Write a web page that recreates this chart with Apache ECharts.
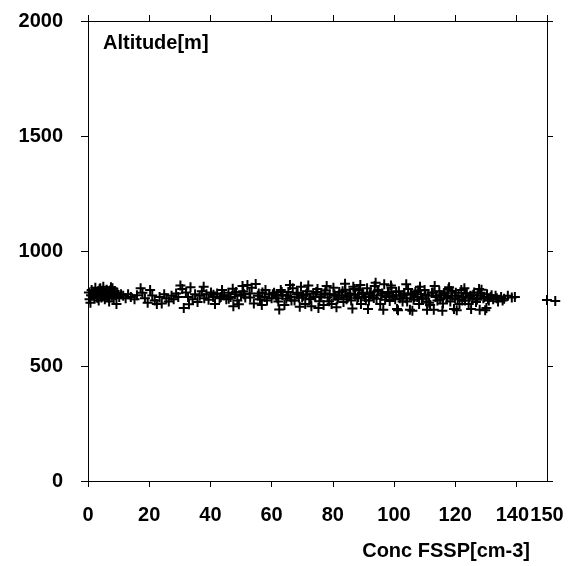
<!DOCTYPE html>
<html>
<head>
<meta charset="utf-8">
<script src="https://cdn.jsdelivr.net/npm/echarts@6/dist/echarts.min.js"></script>
<style>html,body{margin:0;padding:0;background:#fff;}#c{width:569px;height:566px;}</style>
</head>
<body>
<div id="c"></div>
<script>
// Concentration FSSP [cm-3] (first pass of points)
var concentration = [
  0.3,0.5,0.8,1.2,1.5,1.8,2.1,2.4,2.6,3.0,3.3,3.5,3.8,4.1,4.4,4.7,5.0,5.2,5.5,5.8,6.1,6.3,6.6,6.9,7.2,7.5,7.8,8.1,8.4,8.7,9.0,9.3,9.6,10.2,10.8,
  11.5,12.3,13.1,14.0,15.2,16.0,17.2,17.8,18.6,19.5,20.3,21.0,21.8,22.5,23.4,24.1,24.9,25.6,26.4,27.3,28.0,28.8,29.5,
  30.2,30.8,31.3,32.0,32.7,33.5,34.2,35.0,35.8,36.5,37.2,38.0,38.7,39.4,40.2,40.9,41.5,42.2,43.0,43.8,44.5,45.2,45.9,46.6,47.3,48.0,48.8,49.3,50.0,50.7,51.4,52.1,52.8,53.5,54.2,54.8,55.5,56.2,57.0,57.8,58.5,59.2,
  60.0,60.8,61.5,62.2,63.0,63.6,64.2,64.8,65.5,66.2,66.9,67.5,68.2,68.9,69.6,70.3,71.0,71.6,72.3,73.0,73.6,74.3,75.0,75.6,76.3,77.0,77.6,78.3,79.0,79.6,
  80.2,80.8,81.5,82.1,82.8,83.5,84.1,84.8,85.4,86.0,86.7,87.3,88.0,88.6,89.2,89.9,90.5,91.2,91.8,92.4,93.0,93.7,94.3,94.9,95.5,96.1,96.8,97.4,98.0,98.6,99.2,99.8,
  100.4,101.0,101.6,102.2,102.8,103.4,104.0,104.6,105.2,105.8,106.4,107.0,107.6,108.2,108.8,109.4,110.0,110.6,111.2,111.8,112.4,113.0,113.6,114.2,114.8,115.4,116.0,116.6,117.2,117.8,118.4,119.0,119.6,120.2,120.8,121.4,
  122.0,122.6,123.2,123.8,124.4,125.0,125.6,126.2,126.8,127.4,128.0,128.6,129.2,129.8,130.4,131.0,131.6,132.4,133.2,134.0,135.0,136.0,137.2,138.5,139.5,
  150.0,152.7
];
// Altitude [m] (first pass of points)
var altitude = [
  820,790,775,830,805,815,795,840,812,800,825,785,835,810,798,822,845,805,790,818,832,800,812,780,828,842,805,815,795,826,808,770,818,800,812,
  805,795,812,800,790,808,838,818,795,775,830,806,785,770,800,772,812,795,780,805,790,815,800,
  850,835,752,820,800,842,790,812,778,805,825,795,812,788,820,800,770,815,795,830,808,790,818,800,836,812,785,768,805,825,798,852,815,840,772,856,805,790,820,800,785,812,
  795,818,805,780,830,810,765,792,822,800,838,785,812,798,845,805,770,825,792,760,815,800,835,782,810,765,828,798,812,770,
  840,805,790,822,808,778,832,800,815,785,845,810,795,828,770,812,800,838,785,820,805,848,792,830,770,815,855,800,822,783,840,808,
  790,748,825,805,780,815,795,835,745,810,788,822,800,770,812,795,830,780,805,765,818,745,800,785,825,808,772,815,795,835,780,805,748,818,790,770,
  830,800,785,815,770,805,792,820,778,808,745,832,795,742,812,785,800,790,805,780,800,792,805,798,800,
  787,783
];
// Concentration FSSP [cm-3] (second pass of points)
var concentrationB = [
  1.0,2.0,3.1,4.0,5.1,6.0,7.0,8.0,9.1,
  41.0,43.4,46.0,48.4,51.0,53.0,55.8,58.0,
  60.4,61.9,63.3,65.0,66.5,68.5,70.0,71.3,72.8,74.6,
  76.0,77.3,78.8,80.5,81.8,83.2,84.5,85.7,87.0,88.3,
  89.6,90.8,92.1,93.4,94.6,95.8,97.1,98.3,99.5,100.7,
  101.9,103.1,104.3,105.5,106.7,107.9,109.1,110.3,111.5,112.7,
  113.9,115.1,116.3,117.5,118.7,119.9,121.1,122.3,123.5,124.7,
  125.9,127.1,128.3,129.5,130.7,131.9,133.6,135.5
];
// Altitude [m] (second pass of points)
var altitudeB = [
  808,822,796,838,815,826,800,838,812,
  810,800,792,822,812,798,815,830,
  812,795,822,805,785,818,798,812,790,822,
  800,815,782,812,798,825,790,810,835,800,
  818,786,812,796,825,806,788,815,800,822,
  795,808,780,815,800,828,792,810,775,820,
  805,790,816,800,826,795,805,785,815,798,
  810,788,818,800,792,808,795,785
];
// Concentration FSSP [cm-3] (outlying points of the band)
var concentrationC = [
  33.0,37.8,47.5,50.5,56.8,62.5,66.0,69.2,72.0,75.3,78.0,81.2,84.0,86.4,89.0,91.5,
  94.0,96.5,99.0,101.3,104.0,106.0,108.5,110.8,113.3,115.8,118.0,120.5,123.0,125.2,127.8,130.2
];
// Altitude [m] (outlying points of the band)
var altitudeC = [
  768,845,760,848,765,746,852,758,850,752,848,755,858,750,852,748,
  862,745,850,742,855,740,845,745,848,740,842,742,838,748,835,752
];
var xTicks = [0, 20, 40, 60, 80, 100, 120, 140, 150];
var yTicks = [0, 500, 1000, 1500, 2000];

function pairs(xs, ys) { return xs.map(function (c, i) { return [c, ys[i]]; }); }
var points = pairs(concentration, altitude)
  .concat(pairs(concentrationB, altitudeB))
  .concat(pairs(concentrationC, altitudeC));

var xMin = xTicks[0], xMax = xTicks[xTicks.length - 1];
var yMin = yTicks[0], yMax = yTicks[yTicks.length - 1];

var font = 'Liberation Sans';
var chart = echarts.init(document.getElementById('c'), null, {renderer: 'canvas'});
var lineStyle = {color: '#000', width: 1};
var labelStyle = {color: '#000', fontFamily: font, fontSize: 20, fontWeight: 'bold'};
var gridBox = {left: 88, right: 22, top: 21, bottom: 85, containLabel: false};
chart.setOption({
  animation: false,
  backgroundColor: '#fff',
  title: [
    {text: 'Altitude[m]', left: 103, top: 33, padding: 0,
     textStyle: labelStyle},
    {text: 'Conc FSSP[cm-3]', right: 39, top: 541, padding: 0,
     textStyle: labelStyle}
  ],
  grid: [Object.assign({}, gridBox), Object.assign({}, gridBox)],
  xAxis: [
    {type: 'value', gridIndex: 0, position: 'bottom', min: xMin, max: xMax, interval: 20,
     axisLine: {show: true, onZero: false, lineStyle: lineStyle},
     axisTick: {show: true, inside: false, length: 6, lineStyle: lineStyle},
     axisLabel: Object.assign({show: true, margin: 24, showMinLabel: true, showMaxLabel: false,
                 formatter: function (v) { return v === 140 ? '{s|' + v + '}' : String(v); },
                 rich: {s: Object.assign({padding: [0, 8, 0, 0]}, labelStyle)}}, labelStyle),
     splitLine: {show: false}},
    {type: 'value', gridIndex: 0, position: 'top', min: xMin, max: xMax, interval: 20,
     axisLine: {show: true, onZero: false, lineStyle: lineStyle},
     axisTick: {show: true, inside: false, length: 6, lineStyle: lineStyle},
     axisLabel: {show: false}, splitLine: {show: false}},
    // separate axis carrying only the end label (150), so it is not hidden by the 140 label
    {type: 'value', gridIndex: 1, position: 'bottom', min: xMin, max: xMax, interval: 20,
     axisLine: {show: false}, axisTick: {show: false}, splitLine: {show: false},
     axisLabel: Object.assign({show: true, margin: 24, showMinLabel: false, showMaxLabel: true,
                 formatter: function (v) { return v === xMax ? String(v) : ''; }}, labelStyle)}
  ],
  yAxis: [
    {type: 'value', gridIndex: 0, position: 'left', min: yMin, max: yMax, interval: 500,
     axisLine: {show: true, onZero: false, lineStyle: lineStyle},
     axisTick: {show: true, inside: false, length: 7, lineStyle: lineStyle},
     axisLabel: Object.assign({show: true, margin: 25, showMinLabel: true, showMaxLabel: true,
                 formatter: function (v) { return String(v); }}, labelStyle),
     splitLine: {show: false}},
    {type: 'value', gridIndex: 0, position: 'right', min: yMin, max: yMax, interval: 500,
     axisLine: {show: true, onZero: false, lineStyle: lineStyle},
     axisTick: {show: true, inside: false, length: 6, lineStyle: lineStyle},
     axisLabel: {show: false}, splitLine: {show: false}},
    {type: 'value', gridIndex: 1, min: yMin, max: yMax, show: false}
  ],
  series: [{
    type: 'scatter',
    xAxisIndex: 0, yAxisIndex: 0,
    clip: false,
    symbol: 'path://M4,0H6V4H10V6H6V10H4V6H0V4H4Z',
    symbolSize: 10,
    itemStyle: {color: '#000', opacity: 1},
    data: points
  }]
});
</script>
</body>
</html>
